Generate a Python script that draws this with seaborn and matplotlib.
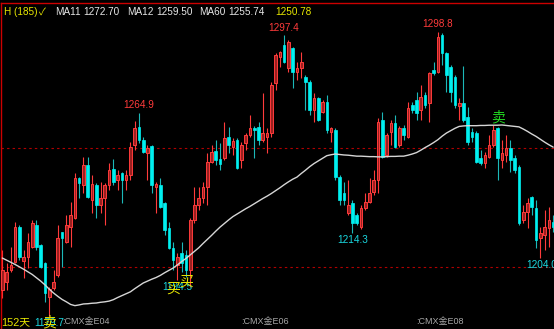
import numpy as np
import pandas as pd
import matplotlib
matplotlib.use("Agg")
import matplotlib.pyplot as plt
import seaborn as sns

# ---------------- data ----------------
opens = [
    1190.5, 1193.8, 1198.9, 1202.2, 1216.9, 1202.7, 1204.3, 1208.5, 1217.8, 1209.4,
    1201.8, 1187.5, 1191.3, 1196.8, 1214.8, 1210.6, 1216.9, 1220.7, 1237.5, 1234.6,
    1243.0, 1228.3, 1234.6, 1226.2, 1229.1, 1234.6, 1241.3, 1236.7, 1239.6, 1236.7,
    1238.8, 1251.4, 1259.0, 1253.5, 1248.0, 1251.0, 1233.7, 1234.6, 1227.0, 1216.5,
    1208.1, 1201.0, 1206.0, 1205.2, 1198.9, 1219.9, 1226.2, 1229.1, 1233.7, 1244.2,
    1248.9, 1245.5, 1245.9, 1254.8, 1250.6, 1253.5, 1245.1, 1252.2, 1255.6, 1258.5,
    1259.0, 1253.5, 1254.8, 1256.4, 1277.4, 1288.4, 1293.4, 1283.7, 1292.1, 1282.1,
    1283.7, 1280.0, 1277.9, 1266.1, 1271.1, 1265.3, 1269.5, 1256.9, 1257.7, 1237.9,
    1231.2, 1222.8, 1227.0, 1222.0, 1216.9, 1224.9, 1227.4, 1231.6, 1236.7, 1261.9,
    1247.2, 1256.9, 1260.6, 1251.4, 1258.5, 1254.8, 1268.2, 1270.3, 1266.1, 1272.4,
    1269.0, 1282.9, 1282.1, 1297.6, 1290.0, 1284.2, 1280.0, 1267.8, 1269.0, 1263.2,
    1256.9, 1256.4, 1245.9, 1243.8, 1246.3, 1251.4, 1258.5, 1245.1, 1247.2, 1250.1,
    1245.9, 1242.1, 1219.9, 1223.2, 1229.5, 1224.9, 1212.3, 1213.6, 1216.5, 1219.0,
]
highs = [
    1207.3, 1201.8, 1208.5, 1219.0, 1217.8, 1207.3, 1214.4, 1219.9, 1219.9, 1209.6,
    1202.2, 1191.7, 1198.9, 1217.8, 1215.0, 1222.0, 1227.4, 1239.6, 1237.9, 1246.3,
    1246.3, 1238.8, 1235.4, 1235.8, 1235.4, 1243.8, 1245.5, 1240.9, 1240.0, 1240.9,
    1252.7, 1261.5, 1264.9, 1254.8, 1251.4, 1251.4, 1235.8, 1237.5, 1227.4, 1219.0,
    1210.6, 1206.0, 1210.6, 1207.3, 1220.7, 1233.7, 1233.7, 1235.8, 1248.0, 1251.4,
    1253.5, 1252.2, 1261.1, 1259.0, 1254.3, 1254.3, 1252.7, 1256.4, 1264.0, 1259.4,
    1261.1, 1273.2, 1258.5, 1277.9, 1290.0, 1290.9, 1297.4, 1295.5, 1292.6, 1286.3,
    1290.5, 1280.8, 1278.7, 1273.2, 1271.5, 1270.3, 1272.4, 1259.0, 1258.5, 1238.8,
    1235.8, 1236.7, 1228.3, 1222.8, 1226.2, 1231.2, 1237.5, 1240.9, 1262.7, 1265.3,
    1256.4, 1261.9, 1264.0, 1259.4, 1259.8, 1269.5, 1269.5, 1273.7, 1276.6, 1273.7,
    1282.1, 1286.3, 1298.8, 1298.4, 1290.5, 1285.0, 1280.8, 1271.1, 1284.6, 1267.4,
    1258.5, 1257.3, 1249.3, 1248.4, 1255.6, 1259.8, 1259.0, 1253.5, 1255.6, 1253.5,
    1247.2, 1243.0, 1226.2, 1229.1, 1229.9, 1228.3, 1216.9, 1224.1, 1225.3, 1222.0,
]
lows = [
    1187.1, 1190.5, 1198.0, 1201.8, 1203.1, 1195.5, 1199.7, 1208.1, 1207.3, 1199.7,
    1185.4, 1179.7, 1190.5, 1195.9, 1200.1, 1210.2, 1208.5, 1220.2, 1229.1, 1231.2,
    1229.1, 1222.8, 1220.7, 1222.8, 1217.8, 1232.5, 1234.6, 1232.5, 1227.0, 1232.5,
    1236.7, 1249.3, 1252.2, 1248.0, 1236.7, 1231.2, 1222.8, 1224.9, 1213.6, 1207.7,
    1198.9, 1194.5, 1198.0, 1195.9, 1191.7, 1218.6, 1224.1, 1227.0, 1226.2, 1243.8,
    1243.0, 1240.9, 1245.1, 1248.0, 1247.2, 1241.3, 1241.7, 1249.3, 1254.8, 1245.9,
    1251.4, 1252.7, 1248.0, 1254.8, 1274.5, 1284.2, 1285.8, 1282.1, 1275.3, 1278.7,
    1279.5, 1266.1, 1264.0, 1261.1, 1261.5, 1264.8, 1256.4, 1252.7, 1236.7, 1226.2,
    1226.2, 1222.0, 1214.3, 1217.8, 1216.1, 1224.1, 1227.0, 1230.4, 1231.2, 1245.9,
    1246.3, 1251.4, 1250.2, 1250.6, 1253.5, 1254.3, 1264.8, 1261.9, 1261.9, 1266.9,
    1261.1, 1280.8, 1281.6, 1285.0, 1273.7, 1269.5, 1266.9, 1261.9, 1261.1, 1251.4,
    1252.7, 1243.8, 1243.0, 1241.7, 1245.9, 1250.6, 1236.7, 1241.7, 1244.2, 1240.0,
    1239.6, 1217.8, 1218.6, 1216.5, 1222.0, 1208.1, 1204.0, 1207.3, 1208.5, 1214.8,
]
closes = [
    1198.9, 1198.0, 1201.0, 1216.9, 1204.3, 1204.3, 1210.6, 1218.6, 1208.5, 1200.1,
    1189.2, 1190.9, 1193.8, 1212.3, 1212.3, 1217.8, 1222.0, 1237.5, 1235.4, 1243.0,
    1229.5, 1235.0, 1226.2, 1229.1, 1234.6, 1240.9, 1235.8, 1238.8, 1236.7, 1238.8,
    1250.6, 1258.5, 1253.5, 1248.4, 1250.1, 1234.6, 1235.0, 1225.3, 1215.7, 1208.1,
    1203.1, 1204.3, 1201.8, 1198.9, 1219.9, 1226.2, 1229.1, 1233.7, 1244.2, 1248.4,
    1245.1, 1243.4, 1254.3, 1251.4, 1253.1, 1241.7, 1251.4, 1255.6, 1258.5, 1257.7,
    1253.5, 1256.4, 1256.4, 1276.6, 1289.2, 1290.5, 1286.3, 1294.7, 1282.1, 1283.7,
    1286.3, 1277.9, 1266.1, 1271.1, 1261.9, 1269.5, 1257.7, 1258.5, 1237.9, 1228.3,
    1228.3, 1226.2, 1218.6, 1218.6, 1224.9, 1227.4, 1231.2, 1236.7, 1261.1, 1246.3,
    1255.6, 1260.6, 1250.6, 1258.5, 1255.6, 1266.9, 1266.1, 1264.8, 1271.6, 1268.2,
    1281.6, 1281.6, 1296.8, 1290.0, 1280.8, 1273.7, 1268.2, 1269.0, 1261.9, 1252.7,
    1254.8, 1244.2, 1243.8, 1247.2, 1251.4, 1257.7, 1245.9, 1248.0, 1250.1, 1245.1,
    1240.9, 1218.6, 1223.2, 1227.0, 1225.3, 1211.5, 1214.4, 1216.9, 1219.9, 1216.9,
]
ma60 = [
    1203.9, 1203.0, 1202.1, 1201.2, 1200.2, 1199.2, 1198.1, 1197.0, 1195.6, 1194.2,
    1192.6, 1190.8, 1189.2, 1187.8, 1186.5, 1185.5, 1184.4, 1183.9, 1184.2, 1184.6,
    1184.7, 1184.9, 1185.0, 1185.3, 1185.5, 1185.8, 1186.4, 1187.3, 1188.1, 1188.9,
    1189.7, 1191.0, 1192.2, 1193.4, 1194.2, 1195.0, 1195.7, 1196.6, 1197.7, 1198.7,
    1199.7, 1201.0, 1202.4, 1203.7, 1205.2, 1206.7, 1208.2, 1210.0, 1211.7, 1213.4,
    1215.2, 1216.9, 1218.4, 1219.9, 1221.3, 1222.4, 1223.5, 1224.6, 1225.6, 1226.7,
    1227.8, 1228.9, 1229.9, 1231.0, 1232.2, 1233.4, 1234.7, 1235.9, 1237.0, 1237.9,
    1239.4, 1240.8, 1242.3, 1243.6, 1244.7, 1245.8, 1246.9, 1247.3, 1247.6, 1247.4,
    1247.2, 1247.1, 1246.9, 1246.7, 1246.7, 1246.6, 1246.5, 1246.5, 1246.4, 1246.4,
    1246.5, 1246.6, 1246.6, 1246.7, 1246.7, 1247.1, 1247.6, 1248.2, 1249.2, 1250.3,
    1251.3, 1252.4, 1253.6, 1255.1, 1256.4, 1257.4, 1258.4, 1259.2, 1259.4, 1259.5,
    1259.5, 1259.5, 1259.6, 1259.6, 1259.7, 1259.7, 1259.7, 1259.8, 1259.6, 1259.4,
    1259.2, 1259.0, 1258.1, 1257.1, 1256.0, 1255.0, 1253.8, 1252.6, 1251.5, 1250.5,
]

grid_levels = [1250, 1200]

# extreme-value labels
peak_idx = [32, 66, 102]
peak_txt = ["1264.9", "1297.4", "1298.8"]
trough_idx = [11, 41, 82, 126]
trough_txt = ["1179.7", "1194.5", "1214.3", "1204.0"]

month_idx = [14, 56, 97]
month_txt = [":CMX金E04", ":CMX金E06", ":CMX金E08"]

header_txt = ["H (185)", "✓", "MA11", "1272.70", "MA12", "1259.50", "MA60", "1255.74", "1250.78"]

# ---------------- style ----------------
sns.set_theme(style="dark", rc={"axes.facecolor": "black", "figure.facecolor": "black"})
plt.rcParams["font.family"] = ["Liberation Sans", "Noto Sans CJK SC", "DejaVu Sans"]

RED = "#ff3b3b"
RED_FILL = "#9a2020"
CYAN = "#00f0f0"
CYAN_WICK = "#1cb8b8"
YELLOW = "#e8e800"
LABEL_CYAN = "#1ad8e0"

W, H = 554, 329
fig = plt.figure(figsize=(W / 100, H / 100), dpi=100)
ax = fig.add_axes([1 / W, 0, (W - 1) / W, (H - 3) / H])
ax.set_facecolor("black")

n = len(opens)
df = pd.DataFrame({"i": np.arange(n), "open": opens, "high": highs,
                   "low": lows, "close": closes, "ma60": ma60})
up = df["close"] >= df["open"]
dn = ~up

# dashed price grid
for lv in grid_levels:
    ax.axhline(lv, color="#b00000", lw=0.8, ls=(0, (2.2, 2.8)), zorder=1)

# wicks
ax.vlines(df.loc[up, "i"], df.loc[up, "low"], df.loc[up, "high"], color=RED, lw=0.8, zorder=2)
ax.vlines(df.loc[dn, "i"], df.loc[dn, "low"], df.loc[dn, "high"], color=CYAN_WICK, lw=0.8, zorder=2)

# bodies
ax.bar(df.loc[up, "i"], (df["close"] - df["open"])[up], bottom=df.loc[up, "open"],
       width=0.62, color=RED_FILL, edgecolor=RED, linewidth=0.7, zorder=3)
ax.bar(df.loc[dn, "i"], (df["open"] - df["close"])[dn], bottom=df.loc[dn, "close"],
       width=0.62, color=CYAN, edgecolor=CYAN, linewidth=0.5, zorder=3)

# MA60 line
sns.lineplot(data=df, x="i", y="ma60", color="#d6d6d6", lw=1.0, ax=ax, zorder=4)

# peak / trough labels
for i, t in zip(peak_idx, peak_txt):
    ax.annotate(t, xy=(i, highs[i]), xytext=(0, 2), textcoords="offset points",
                ha="center", va="bottom", color=RED, fontsize=7.2, zorder=6)
for i, t in zip(trough_idx, trough_txt):
    ha = "left" if i > n - 6 else "center"
    dx = -10 if ha == "left" else 0
    ax.annotate(t, xy=(i, lows[i]), xytext=(dx, -1.5), textcoords="offset points",
                ha=ha, va="top", color=LABEL_CYAN, fontsize=7.2, zorder=6)

# buy / sell signals
ax.annotate("卖", xy=(11, lows[11]), xytext=(0, 0), textcoords="offset points",
            ha="center", va="top", color=YELLOW, fontsize=10, zorder=7)
ax.annotate("买", xy=(40, lows[41]), xytext=(0, -1), textcoords="offset points",
            ha="center", va="top", color=YELLOW, fontsize=10, zorder=7)
ax.annotate("买", xy=(43, lows[41]), xytext=(0, 4), textcoords="offset points",
            ha="center", va="top", color=YELLOW, fontsize=10, zorder=7)
ax.annotate("卖", xy=(116, highs[116]), xytext=(0, 1.5), textcoords="offset points",
            ha="center", va="bottom", color="#22dd22", fontsize=10, zorder=7)

# month labels at bottom
xt = ax.get_xaxis_transform()
for i, t in zip(month_idx, month_txt):
    ax.text(i, 0.022, t, transform=xt, ha="left", va="center", color="#a8a8a8", fontsize=6.5, zorder=6)
ax.text(-0.2, 0.022, "152天", transform=xt, ha="left", va="center", color=YELLOW, fontsize=7.8, zorder=8)

# axes limits / frame
ax.set_xlim(-0.304, 129.2)
ax.set_ylim(1174.08, 1311.05)
ax.set_xticks([])
ax.set_yticks([])
ax.set_xlabel("")
ax.set_ylabel("")
ax.grid(False)
for s in ["bottom", "right"]:
    ax.spines[s].set_visible(False)
for s in ["left", "top"]:
    ax.spines[s].set_visible(True)
    ax.spines[s].set_color("#cc0000")
    ax.spines[s].set_linewidth(1.0)

# header line
hx = [4, 39, 55, 83, 127, 156, 199, 228, 275]
hc = [YELLOW, YELLOW, "#e6e6e6", "#e6e6e6", "#e6e6e6", "#e6e6e6", "#e6e6e6", "#e6e6e6", YELLOW]
for x, t, c in zip(hx, header_txt, hc):
    fig.text(x / W, 1 - 12 / H, t, ha="left", va="center", color=c, fontsize=7.2)

fig.savefig("out.png", dpi=100, facecolor="black")
